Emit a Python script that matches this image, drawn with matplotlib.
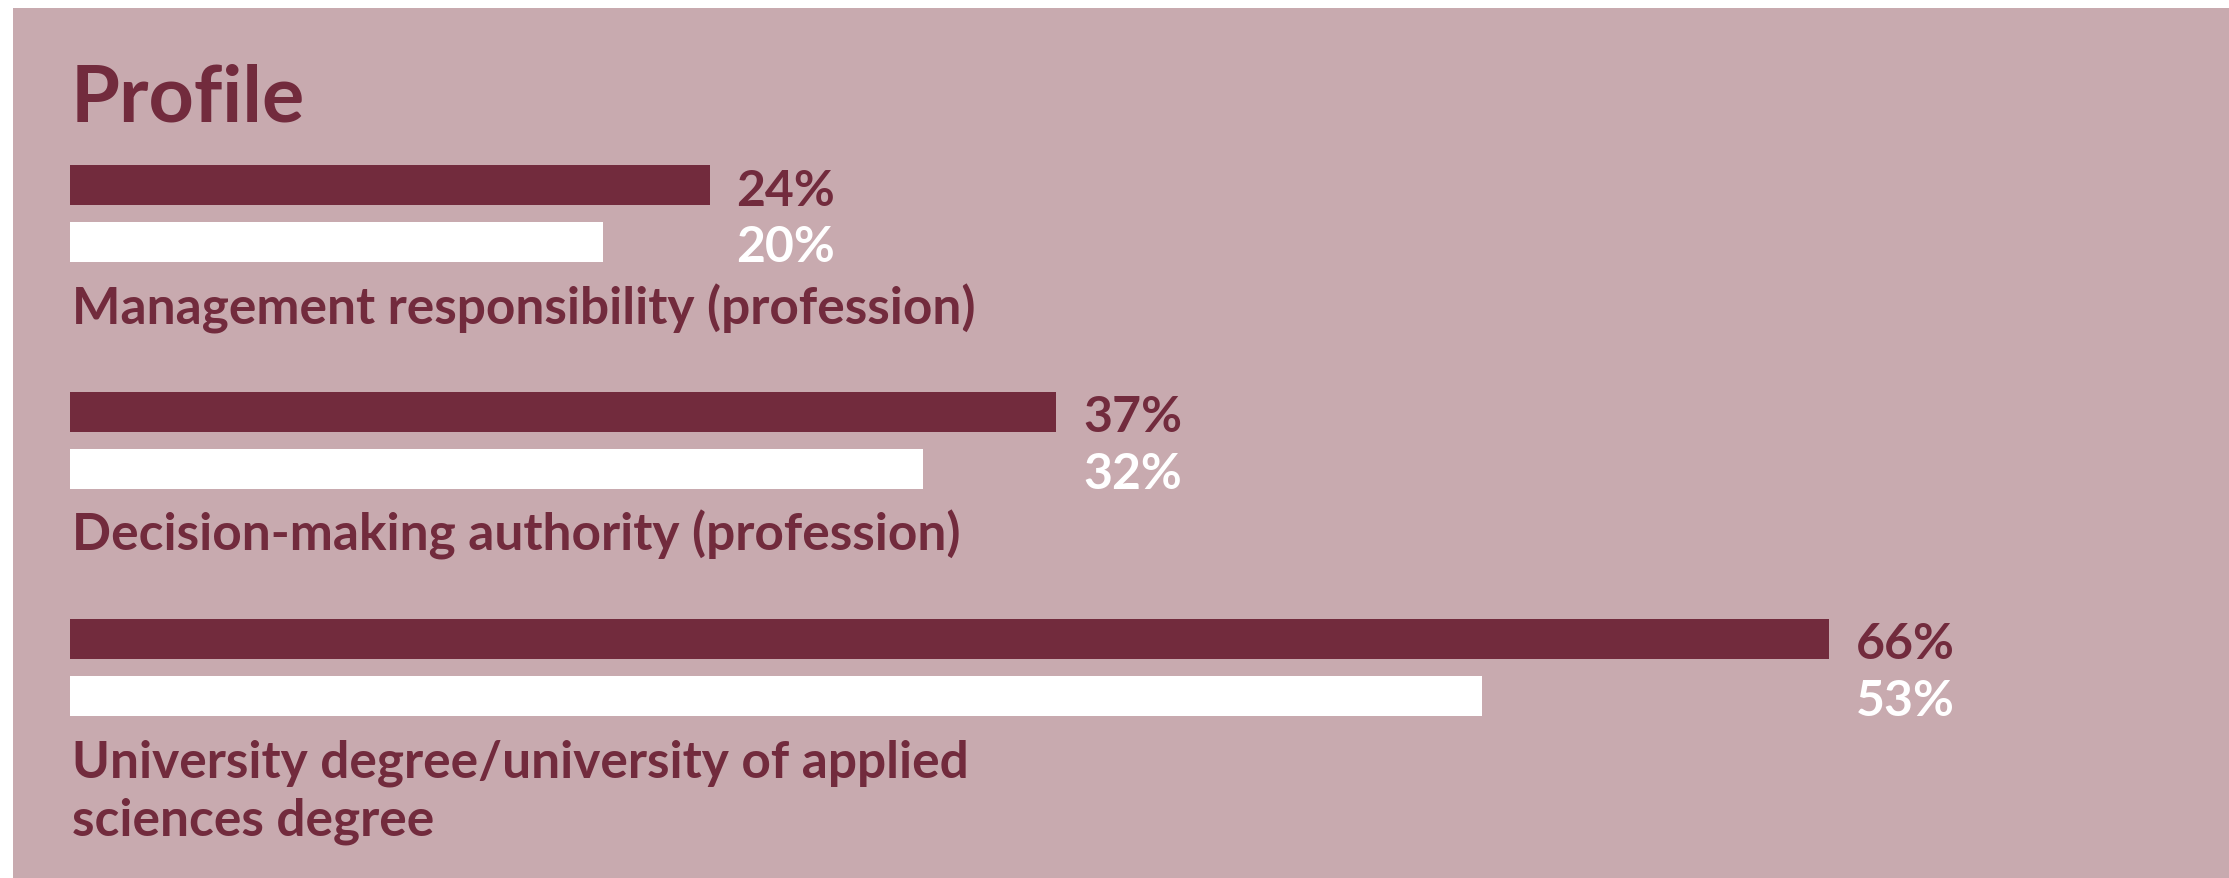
import matplotlib
matplotlib.use("Agg")
import matplotlib.pyplot as plt
from matplotlib.patches import Rectangle

categories = [
    "Management responsibility (profession)",
    "Decision-making authority (profession)",
    "University degree/university of applied\nsciences degree",
]
series_dark = [24, 37, 66]
series_white = [20, 32, 53]

PINK = "#C8AAAF"
DARK = "#722B3D"
W, H = 2229, 879

plt.rcParams["font.family"] = ["Lato", "DejaVu Sans"]
plt.rcParams["font.weight"] = "bold"

fig = plt.figure(figsize=(W / 100, H / 100), dpi=100, facecolor="white")

# pink panel behind everything
fig.patches.append(Rectangle((13 / W, 0), 1, 1 - 8.5 / H, transform=fig.transFigure,
                             facecolor=PINK, edgecolor="none", zorder=-5))

ax = fig.add_axes([70 / W, 0, 1 - 70 / W, 1])
ax.set_facecolor("none")
ax.set_zorder(2)
px_per_pct = 26.65
ax.set_xlim(0, (W - 70) / px_per_pct)
spacing = 227
top_mid = 214.5
ax.set_ylim((H - top_mid) / spacing, -top_mid / spacing)
ax.axis("off")

off = 28.5 / spacing
bh = 40 / spacing
cap_half = 19.5 / spacing
line_gap = 58 / spacing
for i, (cat, d, w) in enumerate(zip(categories, series_dark, series_white)):
    ax.barh(i - off, d, height=bh, color=DARK)
    ax.barh(i + off, w, height=bh, color="white")
    xl = max(d, w) + 27 / px_per_pct
    ax.text(xl, i - off + cap_half, f"{d}%", color=DARK, fontsize=36,
            fontweight="bold", va="baseline", ha="left")
    ax.text(xl, i + off + cap_half, f"{w}%", color="white", fontsize=36,
            fontweight="bold", va="baseline", ha="left")
    for k, line in enumerate(cat.split("\n")):
        ax.text(1.5 / px_per_pct, i + 109.5 / spacing + k * line_gap, line,
                color=DARK, fontsize=37, fontweight="bold", va="baseline", ha="left")

fig.text(71 / W, 1 - 121 / H, "Profile", color=DARK, fontsize=57, fontweight="bold",
         va="baseline", ha="left", zorder=3)

fig.savefig("out.png", dpi=100, facecolor="white")
